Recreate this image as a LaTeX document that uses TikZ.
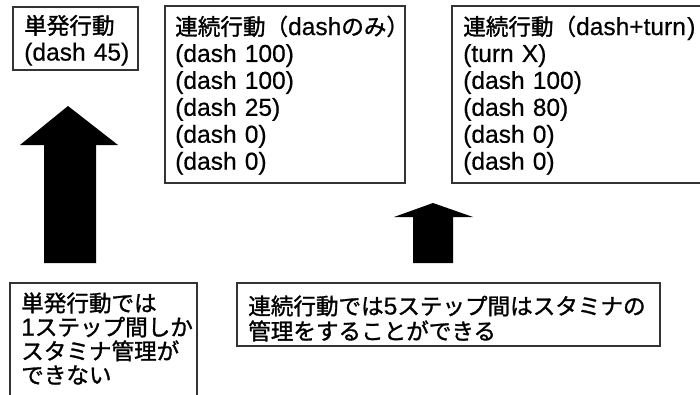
\documentclass[tikz,border=0pt]{standalone}
\usepackage{fontspec}
\setmainfont{Liberation Sans}[FakeBold=0.5]
\newfontfamily\jp[Scale=0.92,FakeBold=1.3]{Noto Sans CJK JP}
\begin{document}
\begin{tikzpicture}[x=0.75pt,y=-0.75pt,
  frame/.style={draw=black!80, line width=0.9pt},
  txt/.style={anchor=base west, inner sep=0pt, align=left, text width=#1},
  bigarrow/.style={fill=black, draw=none}]
\useasboundingbox (0,0) rectangle (700,394);
\clip (0,0) rectangle (700,394);
% frames
\draw[frame] (13,7) rectangle (138,70);
\draw[frame] (165,6) rectangle (405,183);
\draw[frame] (452,6) rectangle (720,183);
\draw[frame] (10,283) rectangle (197,410);
\draw[frame] (237,283) rectangle (660,346);
% texts
\node[txt=120pt, font=\fontsize{18.4}{19.9}\selectfont] (single) at (24,34)
  {{\jp 単発行動}\\(dash 45)};
\node[txt=200pt, font=\fontsize{18.4}{20.2}\selectfont] (dashonly) at (175,35)
  {{\jp 連続行動（}dash{\jp のみ）}\\(dash 100)\\(dash 100)\\(dash 25)\\(dash 0)\\(dash 0)};
\node[txt=170pt, font=\fontsize{18.4}{20.2}\selectfont] (dashturn) at (463,35)
  {{\jp 連続行動（}dash+turn\kern1pt)\\(turn X)\\(dash 100)\\(dash 80)\\(dash 0)\\(dash 0)};
\node[txt=150pt, font=\fontsize{18.4}{18}\selectfont] (note1) at (21,311.5)
  {{\jp 単発行動では}\\1{\jp ステップ間しか}\\{\jp スタミナ管理が}\\{\jp できない}};
\node[txt=330pt, font=\fontsize{18.4}{18.8}\selectfont] (note2) at (248,314.5)
  {{\jp 連続行動では}5{\jp ステップ間はスタミナの}\\{\jp 管理をすることができる}};
% arrows
\fill[bigarrow] (44,263) -- (44,145) -- (20,145) -- (68,106) -- (118,145) -- (96,145) -- (96,263) -- cycle;
\fill[bigarrow] (413,263) -- (413,217) -- (394,217) -- (433,203) -- (473,217) -- (453,217) -- (453,263) -- cycle;
\end{tikzpicture}
\end{document}
